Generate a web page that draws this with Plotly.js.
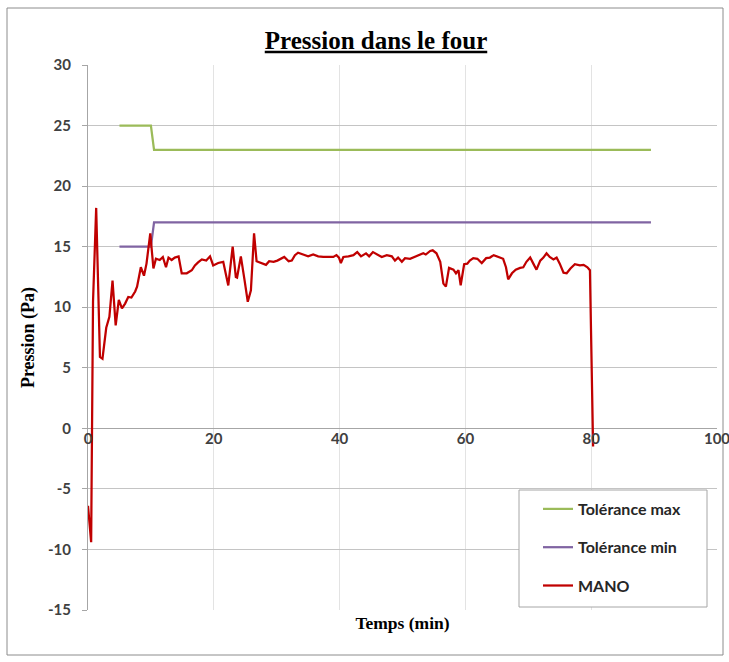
<!DOCTYPE html>
<html>
<head>
<meta charset="utf-8">
<script src="https://cdn.plot.ly/plotly-3.0.1.min.js"></script>
<style>html,body{margin:0;padding:0;background:#fff;}#chart{width:729px;height:662px;}</style>
</head>
<body>
<div id="chart"></div>
<script>
// Tolérance max
const tolMaxX = [5, 10, 10.5, 89.5];
const tolMaxY = [25, 25, 23, 23];
// Tolérance min
const tolMinX = [5, 10, 10.5, 89.5];
const tolMinY = [15, 15, 17, 17];
// MANO
const manoX = [
  0, 0.5, 0.8, 1.3, 1.9, 2.3, 2.9, 3.4, 3.9, 4.4,
  4.9, 5.4, 5.9, 6.4, 6.9, 7.5, 7.8, 8.4, 8.9, 9.3,
  9.9, 10.4, 10.8, 11.4, 11.9, 12.4, 12.8, 13.3, 13.8, 14.4,
  14.9, 15.7, 16.5, 17.0, 17.5, 18.1, 18.8, 19.4, 19.9, 20.7,
  21.5, 22.3, 23.0, 23.5, 23.7, 24.3, 24.9, 25.4, 25.9, 26.4,
  26.8, 27.6, 28.3, 28.8, 29.5, 30.1, 30.8, 31.2, 31.9, 32.4,
  32.9, 33.4, 34.2, 35.0, 35.8, 36.6, 37.4, 38.2, 39.0, 39.5,
  39.9, 40.2, 40.6, 41.4, 42.2, 42.8, 43.4, 44.2, 44.7, 45.3,
  45.9, 46.7, 47.5, 48.3, 48.8, 49.3, 49.9, 50.4, 51.2, 52.0,
  52.7, 53.3, 53.7, 54.4, 54.8, 55.4, 56.0, 56.5, 56.9, 57.4,
  58.1, 58.5, 58.9, 59.25, 59.8, 60.3, 60.7, 61.25, 61.9, 62.6,
  63.3, 63.9, 64.5, 65.2, 66.0, 66.45, 66.8, 67.4, 68.0, 68.7,
  69.2, 69.7, 70.3, 70.8, 71.3, 71.9, 72.4, 72.9, 73.4, 74.0,
  74.5, 75.0, 75.6, 76.1, 76.7, 77.4, 78.2, 78.8, 79.4, 79.8,
  80.3
];
const manoY = [
  -6.4, -9.4, 10.5, 18.2, 5.9, 5.75, 8.3, 9.2, 12.2, 8.5,
  10.6, 9.9, 10.3, 10.85, 10.8, 11.3, 11.7, 13.3, 12.6, 13.6,
  16.1, 13.2, 14.0, 13.9, 14.15, 13.3, 14.1, 13.9, 14.1, 14.2,
  12.8, 12.8, 13.05, 13.45, 13.7, 13.95, 13.85, 14.2, 13.45, 13.65,
  13.75, 11.8, 15.0, 12.5, 12.45, 14.2, 12.2, 10.45, 11.4, 16.1,
  13.8, 13.65, 13.5, 13.8, 13.75, 13.85, 14.05, 14.15, 13.8, 13.85,
  14.3, 14.5, 14.35, 14.2, 14.35, 14.2, 14.15, 14.15, 14.15, 14.3,
  14.1, 13.65, 14.15, 14.2, 14.3, 14.55, 14.2, 14.45, 14.2, 14.55,
  14.35, 14.15, 14.3, 14.2, 13.85, 14.1, 13.75, 14.05, 14.0, 14.15,
  14.3, 14.45, 14.35, 14.65, 14.7, 14.45, 13.75, 11.95, 11.7, 13.25,
  13.1, 12.8, 13.05, 11.8, 13.55, 13.6, 13.85, 14.05, 14.0, 13.65,
  14.05, 14.1, 14.3, 14.15, 14.0, 13.3, 12.3, 12.8, 13.1, 13.25,
  13.3, 13.75, 14.1, 13.6, 13.1, 13.85, 14.1, 14.45, 14.15, 13.95,
  14.1, 13.6, 12.85, 12.8, 13.2, 13.55, 13.45, 13.5, 13.3, 13.05,
  -1.5
];
const seriesNames = ['Tolérance max', 'Tolérance min', 'MANO'];
const xTickVals = [0, 20, 40, 60, 80, 100];
const xTickText = ['0', '20', '40', '60', '80', '100'];
const yTickVals = [-15, -10, -5, 0, 5, 10, 15, 20, 25, 30];
const yTickText = ['-15', '-10', '-5', '0', '5', '10', '15', '20', '25', '30'];

const tickFont = {family: 'Lato', size: 15, color: '#404040', weight: 'bold'};

const traces = [
  {x: tolMaxX, y: tolMaxY, name: seriesNames[0], legendgroup: 'a', mode: 'lines',
   line: {color: '#9bbb59', width: 2.25}, hoverinfo: 'skip'},
  {x: tolMinX, y: tolMinY, name: seriesNames[1], legendgroup: 'b', mode: 'lines',
   line: {color: '#8064a2', width: 2.25}, hoverinfo: 'skip'},
  {x: manoX, y: manoY, name: seriesNames[2], legendgroup: 'c', mode: 'lines',
   line: {color: '#c00000', width: 2.25}, hoverinfo: 'skip'},
  {x: [null], y: [null], xaxis: 'x2', showlegend: false, hoverinfo: 'skip', mode: 'lines'}
];

const layout = {
  width: 729, height: 662,
  margin: {l: 88, r: 12, t: 65, b: 52},
  paper_bgcolor: '#ffffff', plot_bgcolor: '#ffffff',
  showlegend: true,
  title: {
    text: '<b><u>Pression dans le four</u></b>',
    font: {family: 'Liberation Serif', size: 25, color: '#000000'},
    x: 376 / 729, xref: 'container', xanchor: 'center',
    y: 1 - 40 / 662, yref: 'container', yanchor: 'middle'
  },
  xaxis: {
    range: [0, 100], tickvals: xTickVals, showticklabels: false,
    showgrid: true, gridcolor: '#e3e3e3', gridwidth: 1,
    zeroline: false, showline: false, ticks: '',
    title: {text: '<b>Temps (min)</b>', font: {family: 'Liberation Serif', size: 17.5, color: '#000'}, standoff: 6}
  },
  xaxis2: {
    overlaying: 'x', anchor: 'free', position: 15 / 45, side: 'bottom',
    range: [0, 100], tickvals: xTickVals, ticktext: xTickText,
    showgrid: false, zeroline: false, showline: false,
    ticks: '', tickfont: tickFont, ticklabeloverflow: 'allow'
  },
  yaxis: {
    range: [-15, 30], tickvals: yTickVals, ticktext: yTickText,
    showgrid: true, gridcolor: '#c4c4c4', gridwidth: 1,
    zeroline: true, zerolinecolor: '#a6a6a6', zerolinewidth: 1,
    showline: true, linecolor: '#a6a6a6', linewidth: 1,
    ticks: 'outside', ticklen: 5, tickcolor: '#a6a6a6',
    tickfont: tickFont, ticklabelstandoff: 8, ticklabeloverflow: 'allow',
    title: {text: '<b>Pression (Pa)</b>', font: {family: 'Liberation Serif', size: 18, color: '#000'}, standoff: 8}
  },
  legend: {
    x: (538 - 88) / 629, xanchor: 'left',
    y: (610 - 492) / 545, yanchor: 'top',
    bgcolor: 'rgba(0,0,0,0)', borderwidth: 0,
    traceorder: 'grouped', tracegroupgap: 14.5,
    font: {family: 'Lato', size: 16, color: '#262626', weight: 'bold'}
  },
  shapes: [
    {type: 'rect', xref: 'paper', yref: 'paper',
     x0: (7 - 88) / 629, x1: (723 - 88) / 629, y0: (610 - 655) / 545, y1: (610 - 8) / 545,
     line: {color: '#8c8c8c', width: 1}, fillcolor: 'rgba(0,0,0,0)', layer: 'below'},
    {type: 'rect', xref: 'paper', yref: 'paper',
     x0: (519 - 88) / 629, x1: (707 - 88) / 629, y0: (610 - 607) / 545, y1: (610 - 490) / 545,
     line: {color: '#a6a6a6', width: 1}, fillcolor: '#ffffff', layer: 'above'}
  ]
};

Plotly.newPlot('chart', traces, layout, {displayModeBar: false, staticPlot: true});
</script>
</body>
</html>
